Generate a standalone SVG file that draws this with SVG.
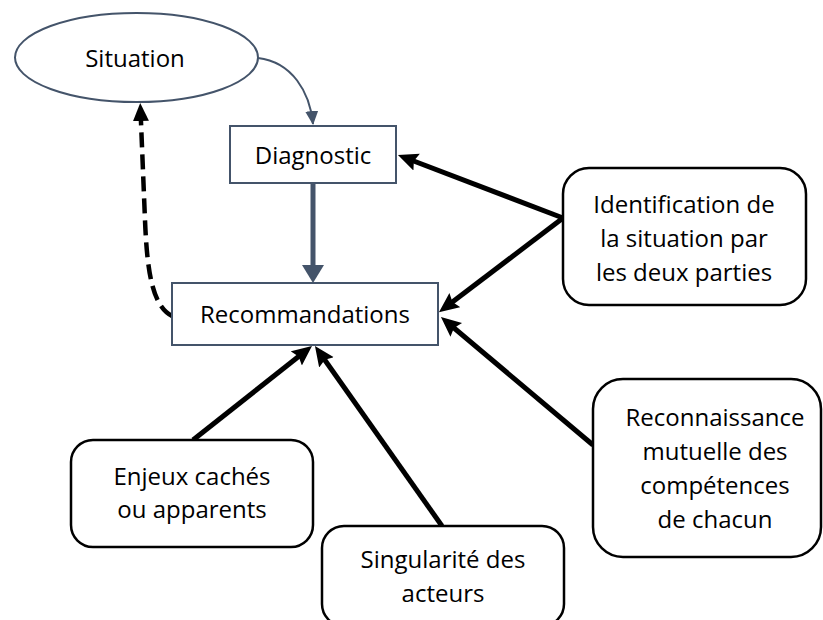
<svg xmlns="http://www.w3.org/2000/svg" width="823" height="620" viewBox="0 0 823 620">
<style>
text{font-family:"Open Sans","Liberation Sans",sans-serif;font-size:24px;fill:#000;text-anchor:middle}
.slate{fill:#fff;stroke:#44546A;stroke-width:2}
.rb{fill:#fff;stroke:#000;stroke-width:2.5}
.blk{fill:none;stroke:#000;stroke-width:5;stroke-linecap:butt}
</style>
<defs>
<marker id="ab" markerUnits="userSpaceOnUse" markerWidth="22" markerHeight="20" refX="13" refY="9" orient="auto"><path d="M0,0 L20,9 L0,18 L3,9 z" fill="#000"/></marker>
<marker id="ad" markerUnits="userSpaceOnUse" markerWidth="20" markerHeight="18" refX="11" refY="8" orient="auto"><path d="M0,0 L18,8 L0,16 z" fill="#000"/></marker>
<marker id="as" markerUnits="userSpaceOnUse" markerWidth="16" markerHeight="14" refX="13" refY="6.5" orient="auto"><path d="M0,0 L14,6.5 L0,13 z" fill="#44546A"/></marker>
</defs>
<g id="connectors">
<path d="M258,58 C292,62 310,92 313,124" fill="none" stroke="#44546A" stroke-width="2" marker-end="url(#as)"/>
<line x1="313" y1="183" x2="313" y2="266" stroke="#44546A" stroke-width="5"/>
<path d="M302,265 L324,265 L313,283 z" fill="#44546A"/>
<path d="M172,316 C152,306 147,270 145,220 L140.5,110" fill="none" stroke="#000" stroke-width="4.5" stroke-dasharray="15,7" marker-end="url(#ad)"/>
<line class="blk" x1="563" y1="218" x2="404.5" y2="157.5" marker-end="url(#ab)"/>
<line class="blk" x1="563" y1="218" x2="444.5" y2="308" marker-end="url(#ab)"/>
<line class="blk" x1="593" y1="445" x2="446.3" y2="321.5" marker-end="url(#ab)"/>
<line class="blk" x1="193" y1="440" x2="306.5" y2="350.3" marker-end="url(#ab)"/>
<line class="blk" x1="442" y1="526" x2="319" y2="351.7" marker-end="url(#ab)"/>
</g>
<g id="situation"><ellipse class="slate" cx="136.5" cy="57.5" rx="121.5" ry="44.5"/><text x="135" y="67">Situation</text></g>
<g id="diagnostic"><rect class="slate" x="230" y="126" width="166" height="57"/><text x="313" y="164">Diagnostic</text></g>
<g id="recommandations"><rect class="slate" x="172" y="283" width="266" height="62"/><text x="305" y="323">Recommandations</text></g>
<g id="identification"><rect class="rb" x="563" y="168" width="243" height="137" rx="26"/><text x="684" y="213">Identification de</text><text x="684" y="247">la situation par</text><text x="684" y="281">les deux parties</text></g>
<g id="reconnaissance"><rect class="rb" x="593" y="379" width="228" height="178" rx="30"/><text x="715" y="426">Reconnaissance</text><text x="715" y="460">mutuelle des</text><text x="715" y="494">compétences</text><text x="715" y="528">de chacun</text></g>
<g id="enjeux"><rect class="rb" x="71" y="440" width="242" height="107" rx="22"/><text x="192" y="485">Enjeux cachés</text><text x="192" y="518">ou apparents</text></g>
<g id="singularite"><rect class="rb" x="322" y="526" width="242" height="100" rx="22"/><text x="443" y="568">Singularité des</text><text x="443" y="602">acteurs</text></g>
</svg>
